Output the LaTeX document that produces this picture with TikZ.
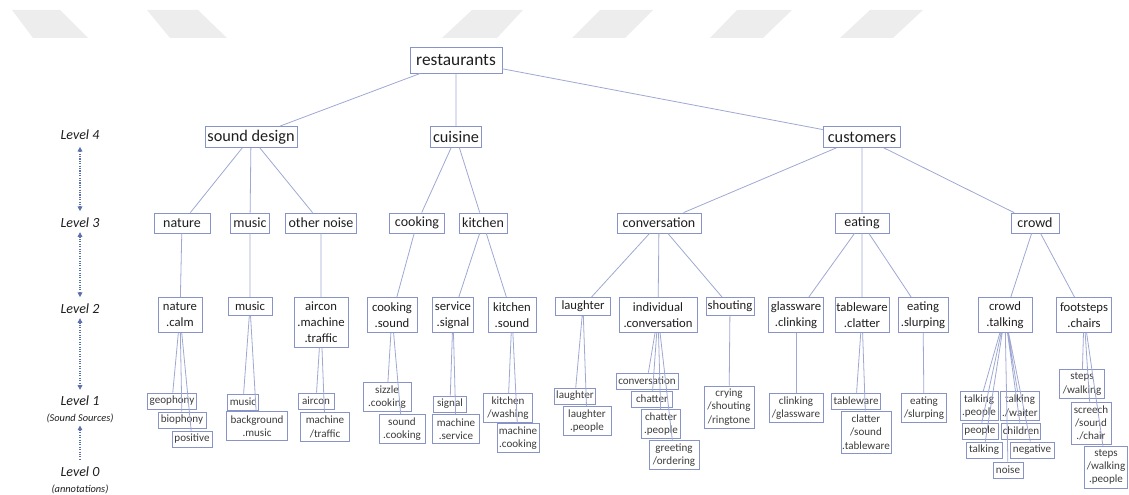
\documentclass[tikz,border=0pt]{standalone}
\usepackage{fontspec}
\setmainfont{Carlito}
\usepackage{tikz}
\usetikzlibrary{arrows.meta, positioning, calc}
\definecolor{tnBox}{RGB}{136,148,200}
\definecolor{tnLine}{RGB}{158,168,210}
\definecolor{tnInk}{RGB}{30,30,30}
\definecolor{tnSoft}{RGB}{60,60,60}
\definecolor{tnArrow}{RGB}{92,112,178}
\definecolor{tnBand}{RGB}{237,237,237}

\begin{document}
\begin{tikzpicture}[x=0.75pt,y=-0.75pt,
  box/.style={draw=tnBox,line width=0.6pt,inner xsep=1pt,inner ysep=1pt,
              align=center,text=tnInk},
  wd/.style={minimum width=#1*0.75pt},
  ht/.style={minimum height=#1*0.75pt},
  rootbox/.style={box,font=\fontsize{13}{15}\selectfont},
  lvfour/.style={box,font=\fontsize{12.2}{14}\selectfont,minimum height=21*0.75pt},
  lvthree/.style={box,font=\fontsize{10.5}{12}\selectfont,minimum height=20*0.75pt},
  lvtwo/.style={box,font=\fontsize{9.5}{12}\selectfont,anchor=north},
  lvone/.style={box,font=\fontsize{8.3}{10}\selectfont,text=tnSoft},
  link/.style={draw=tnLine,line width=0.6pt},
  lvl/.style={font=\fontsize{10.5}{12}\selectfont\itshape,text=tnInk,
              align=center,inner sep=1pt},
  lvarrow/.style={draw=tnArrow,densely dotted,line width=0.8pt,
                  {Triangle[length=3.5pt,width=3.5pt]}-{Triangle[length=3.5pt,width=3.5pt]}}]

\useasboundingbox (0,0) rectangle (1129,495);

% ===== header band =====
\fill[tnBand] (12,10) -- (60,10) -- (88,38) -- (33,38) -- cycle;
\fill[tnBand] (147,10) -- (198,10) -- (227,38) -- (170,38) -- cycle;
\fill[tnBand] (472,10) -- (523,10) -- (497,38) -- (442,38) -- cycle;
\fill[tnBand] (600,10) -- (653,10) -- (625,38) -- (572,38) -- cycle;
\fill[tnBand] (737,10) -- (792,10) -- (763,38) -- (710,38) -- cycle;
\fill[tnBand] (870,10) -- (923,10) -- (893,38) -- (840,38) -- cycle;

% ===== level scale =====
\node[lvl] (l4) at (80,135) {Level 4};
\node[lvl] (l3) at (80,223) {Level 3};
\node[lvl] (l2) at (80,309) {Level 2};
\node[lvl] (l1) at (80,409) {Level 1\\{\fontsize{7.8}{9}\selectfont(Sound Sources)}};
\node[lvl] (l0) at (80,480) {Level 0\\{\fontsize{7.8}{9}\selectfont(annotations)}};
\draw[lvarrow,shorten <=4pt,shorten >=4pt] (l4) -- (l3);
\draw[lvarrow,shorten <=2pt,shorten >=4pt] (l3) -- (l2);
\draw[lvarrow,shorten <=2pt,shorten >=3pt] (l2) -- (l1);
\draw[lvarrow,{Triangle[length=3.5pt,width=3.5pt]}-,shorten <=1pt,shorten >=3pt] (l1) -- (l0);

% ===== root and level 4 =====
\node[rootbox,wd=92,ht=26] (rs) at (456,60) {restaurants};
\node[lvfour,wd=92] (sd) at (251,137) {sound design};
\node[lvfour,wd=51] (cu) at (456,137) {cuisine};
\node[lvfour,wd=77] (cm) at (862,137) {customers};

% ===== level 3 =====
\node[lvthree,wd=56] (na) at (182,223) {nature};
\node[lvthree,wd=39] (mu) at (250,223) {music};
\node[lvthree,wd=71] (on) at (321,223) {other noise};
\node[lvthree,wd=55] (ck) at (417,223) {cooking};
\node[lvthree,wd=48] (kt) at (483,223) {kitchen};
\node[lvthree,wd=84] (cv) at (659,223) {conversation};
\node[lvthree,wd=54] (ea) at (862,223) {eating};
\node[lvthree,wd=48] (cr) at (1035,223) {crowd};

% ===== level 2 =====
\node[lvtwo,wd=44,ht=35] (nc) at (180,297) {nature\\.calm};
\node[lvtwo,wd=44,ht=18] (m2) at (250,297) {music};
\node[lvtwo,wd=54,ht=50] (ai) at (321,297) {aircon\\.machine\\.traffic};
\node[lvtwo,wd=50,ht=35] (cs) at (392,297) {cooking\\.sound};
\node[lvtwo,wd=41,ht=35] (sv) at (453,297) {service\\.signal};
\node[lvtwo,wd=48,ht=35] (ks) at (512,297) {kitchen\\.sound};
\node[lvtwo,wd=55,ht=18] (lg) at (583,297) {laughter};
\node[lvtwo,wd=78,ht=35] (ic) at (658,297) {individual\\.conversation};
\node[lvtwo,wd=48,ht=18] (sh) at (730,297) {shouting};
\node[lvtwo,wd=55,ht=35] (gc) at (796,297) {glassware\\.clinking};
\node[lvtwo,wd=54,ht=35] (tc) at (862,297) {tableware\\.clatter};
\node[lvtwo,wd=50,ht=35] (es) at (923,297) {eating\\.slurping};
\node[lvtwo,wd=54,ht=35] (ct) at (1005,297) {crowd\\.talking};
\node[lvtwo,wd=55,ht=35] (fc) at (1084,297) {footsteps\\.chairs};

% ===== level 1 (sound sources) =====
\node[lvone,wd=49,ht=16] (geo) at (172,401) {geophony};
\node[lvone,wd=48,ht=16] (bio) at (182,420) {biophony};
\node[lvone,wd=40,ht=16] (pos) at (192,439) {positive};
\node[lvone,wd=31,ht=16] (mus) at (243,402) {music};
\node[lvone,wd=61,ht=29] (bgm) at (257,426) {background\\.music};
\node[lvone,wd=36,ht=16] (air) at (316,401) {aircon};
\node[lvone,wd=49,ht=29] (mtr) at (325,427) {machine\\/traffic};
\node[lvone,wd=48,ht=29] (siz) at (387,397) {sizzle\\.cooking};
\node[lvone,wd=46,ht=29] (sck) at (402,429) {sound\\.cooking};
\node[lvone,wd=33,ht=16] (sig) at (450,404) {signal};
\node[lvone,wd=47,ht=29] (msv) at (456,429) {machine\\.service};
\node[lvone,wd=49,ht=29] (kwa) at (508,408) {kitchen\\/washing};
\node[lvone,wd=42,ht=29] (mck) at (518,438) {machine\\.cooking};
\node[lvone,wd=41,ht=16] (lau) at (575,396) {laughter};
\node[lvone,wd=48,ht=29] (lpe) at (587,421) {laughter\\.people};
\node[lvone,wd=62,ht=16] (con) at (647,381) {conversation};
\node[lvone,wd=41,ht=16] (cha) at (652,399) {chatter};
\node[lvone,wd=39,ht=29] (cpe) at (661,424) {chatter\\.people};
\node[lvone,wd=50,ht=29] (gre) at (674,455) {greeting\\/ordering};
\node[lvone,wd=50,ht=42] (cry) at (729,407) {crying\\/shouting\\/ringtone};
\node[lvone,wd=54,ht=29] (cli) at (796,408) {clinking\\/glassware};
\node[lvone,wd=49,ht=16] (tab) at (856,401) {tableware};
\node[lvone,wd=50,ht=42] (cla) at (866,432) {clatter\\/sound\\.tableware};
\node[lvone,wd=45,ht=29] (esl) at (924,408) {eating\\/slurping};
\node[lvone,wd=38,ht=29] (tpe) at (979,406) {talking\\.people};
\node[lvone,wd=38,ht=29] (twa) at (1020,406) {talking\\./waiter};
\node[lvone,wd=36,ht=16] (peo) at (980,431) {people};
\node[lvone,wd=38,ht=16] (chi) at (1021,431) {children};
\node[lvone,wd=36,ht=16] (tlk) at (984,450) {talking};
\node[lvone,wd=44,ht=16] (neg) at (1032,450) {negative};
\node[lvone,wd=30,ht=16] (noi) at (1008,470) {noise};
\node[lvone,wd=45,ht=29] (stw) at (1082,384) {steps\\/walking};
\node[lvone,wd=40,ht=42] (scr) at (1091,423) {screech\\/sound\\./chair};
\node[lvone,wd=43,ht=42] (swp) at (1106,467) {steps\\/walking\\.people};

% ===== links =====
\draw[link] (rs) -- (sd) (rs) -- (cu) (rs) -- (cm);
\draw[link] (sd) -- (na) (sd) -- (mu) (sd) -- (on);
\draw[link] (cu) -- (ck) (cu) -- (kt);
\draw[link] (cm) -- (cv) (cm) -- (ea) (cm) -- (cr);
\draw[link] (na) -- (nc) (mu) -- (m2) (on) -- (ai) (ck) -- (cs);
\draw[link] (kt) -- (sv) (kt) -- (ks);
\draw[link] (cv) -- (lg) (cv) -- (ic) (cv) -- (sh);
\draw[link] (ea) -- (gc) (ea) -- (tc) (ea) -- (es);
\draw[link] (cr) -- (ct) (cr) -- (fc);
\draw[link] (nc) -- (geo) (nc) -- (bio) (nc) -- (pos);
\draw[link] (m2) -- (mus) (m2) -- (bgm);
\draw[link] (ai) -- (air) (ai) -- (mtr);
\draw[link] (cs) -- (siz) (cs) -- (sck);
\draw[link] (sv) -- (sig) (sv) -- (msv);
\draw[link] (ks) -- (kwa) (ks) -- (mck);
\draw[link] (lg) -- (lau) (lg) -- (lpe);
\draw[link] (ic) -- (con) (ic) -- (cha) (ic) -- (cpe) (ic) -- (gre);
\draw[link] (sh) -- (cry);
\draw[link] (gc) -- (cli);
\draw[link] (tc) -- (tab) (tc) -- (cla);
\draw[link] (es) -- (esl);
\draw[link] (ct) -- (tpe) (ct) -- (twa) (ct) -- (peo) (ct) -- (chi)
             (ct) -- (tlk) (ct) -- (neg) (ct) -- (noi);
\draw[link] (fc) -- (stw) (fc) -- (scr) (fc) -- (swp);
\end{tikzpicture}
\end{document}
